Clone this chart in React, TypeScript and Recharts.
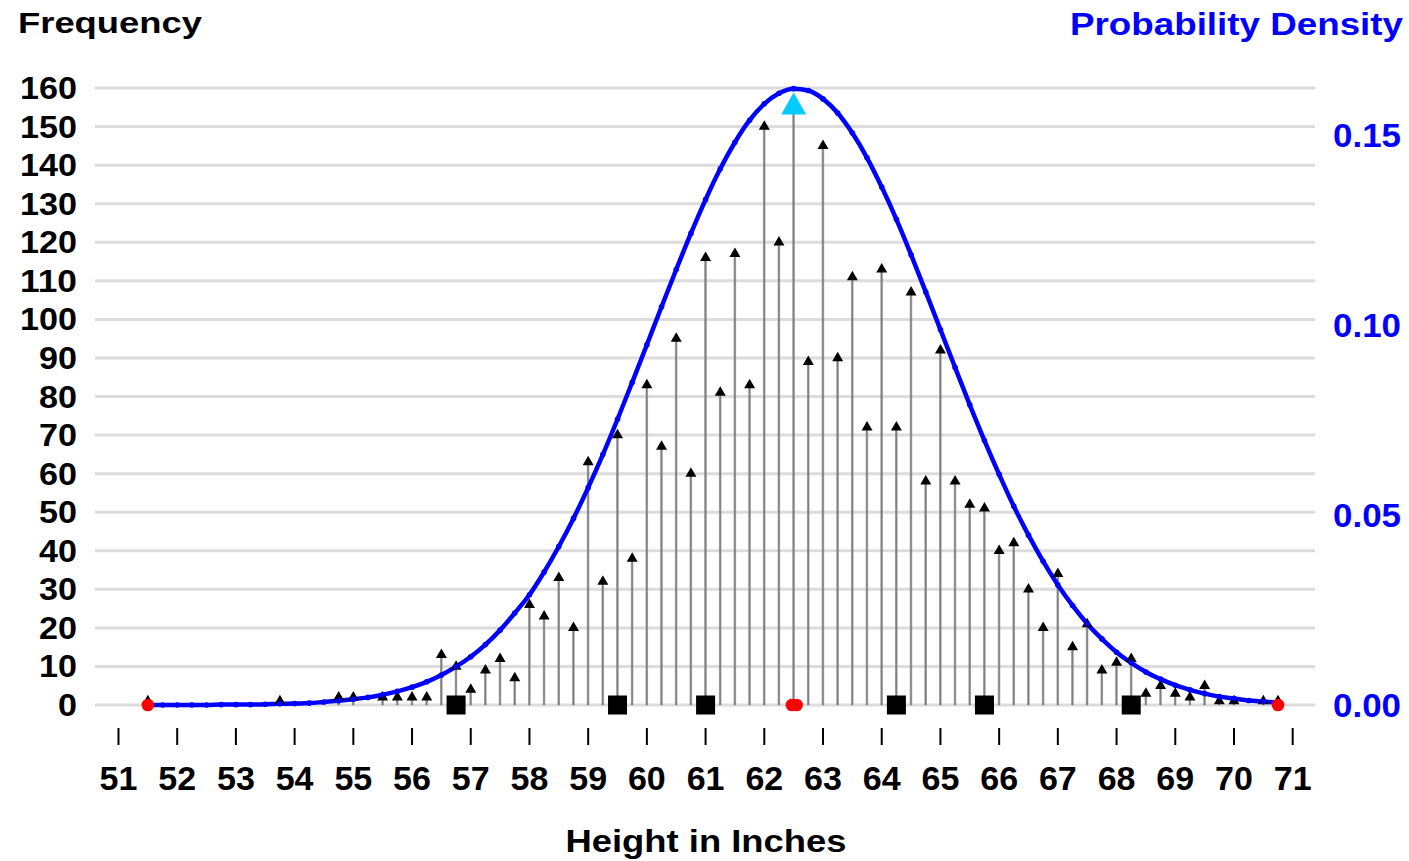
import React from "react";
import { ComposedChart, Bar, Line, Scatter, XAxis, YAxis, CartesianGrid } from "recharts";

// heights in inches, quarter-inch classes
const heights = [
  51.5, 51.75, 52, 52.25, 52.5, 52.75, 53, 53.25, 53.5,
  53.75, 54, 54.25, 54.5, 54.75, 55, 55.25, 55.5, 55.75,
  56, 56.25, 56.5, 56.75, 57, 57.25, 57.5, 57.75,
  58, 58.25, 58.5, 58.75, 59, 59.25, 59.5, 59.75,
  60, 60.25, 60.5, 60.75, 61, 61.25, 61.5, 61.75,
  62, 62.25, 62.5, 62.75, 63, 63.25, 63.5, 63.75,
  64, 64.25, 64.5, 64.75, 65, 65.25, 65.5, 65.75,
  66, 66.25, 66.5, 66.75, 67, 67.25, 67.5, 67.75,
  68, 68.25, 68.5, 68.75, 69, 69.25, 69.5, 69.75,
  70, 70.25, 70.5, 70.75,
];

const frequency = [
  1, 0, 0, 0, 0, 0, 0, 0, 0,
  1, 0, 0, 0, 2, 2, 0, 2, 2,
  2, 2, 13, 10, 4, 9, 12, 7,
  26, 23, 33, 20, 63, 32, 70, 38,
  83, 67, 95, 60, 116, 81, 117, 83,
  150, 120, 155, 89, 145, 90, 111, 72,
  113, 72, 107, 58, 92, 58, 52, 51,
  40, 42, 30, 20, 34, 15, 21, 9,
  11, 12, 3, 5, 3, 2, 5, 1,
  1, 0, 1, 1,
];

const density = [
  0.0, 0.0, 0.0, 0.0, 0.0, 0.0001, 0.0001, 0.0001, 0.0002,
  0.0003, 0.0004, 0.0005, 0.0008, 0.0011, 0.0015, 0.002, 0.0027, 0.0036,
  0.0047, 0.0061, 0.0079, 0.0101, 0.0127, 0.0159, 0.0197, 0.0242,
  0.029, 0.035, 0.0417, 0.0491, 0.0572, 0.0659, 0.0752, 0.0849,
  0.0948, 0.1048, 0.1146, 0.1241, 0.133, 0.1411, 0.1481, 0.1539,
  0.1582, 0.161, 0.1622, 0.1617, 0.1595, 0.1558, 0.1505, 0.144,
  0.1363, 0.1278, 0.1185, 0.1087, 0.0988, 0.0888, 0.079, 0.0696,
  0.0607, 0.0523, 0.0447, 0.0378, 0.0316, 0.0262, 0.0214, 0.0174,
  0.0139, 0.0111, 0.0087, 0.0068, 0.0052, 0.004, 0.003, 0.0022,
  0.0017, 0.0012, 0.0009, 0.0006,
];

const modeHeight = 62.5;
const extremes = [51.5, 62.47, 62.55, 70.75]; // min, mean, median, max
const quantiles = [56.75, 59.5, 61.0, 64.25, 65.75, 68.25];

const xTicks = [51, 52, 53, 54, 55, 56, 57, 58, 59, 60, 61, 62, 63, 64, 65, 66, 67, 68, 69, 70, 71];
const freqTicks = [0, 10, 20, 30, 40, 50, 60, 70, 80, 90, 100, 110, 120, 130, 140, 150, 160];
const densTicks = [0, 0.05, 0.1, 0.15];

const rows = heights.map((h, i) => ({ x: h, freq: frequency[i], dens: density[i] }));
const triangleRows = rows.filter((r) => r.freq > 0 && r.x !== modeHeight);
const modeRows = rows.filter((r) => r.x === modeHeight);
const extremeRows = extremes.map((x) => ({ x, y: 0 }));
const quantileRows = quantiles.map((x) => ({ x, y: 0 }));

const FONT = '"Liberation Sans", Arial, Helvetica, sans-serif';
const BLUE = "#0000ff";

const Triangle = (props: any) => {
  const { cx, cy } = props;
  if (cx == null || cy == null) return null;
  return <polygon points={`${cx - 5.5},${cy + 3.2} ${cx + 5.5},${cy + 3.2} ${cx},${cy - 6.3}`} fill="#000" />;
};

const ModeTriangle = (props: any) => {
  const { cx, cy } = props;
  if (cx == null || cy == null) return null;
  return <polygon points={`${cx - 12.5},${cy + 7.3} ${cx + 12.5},${cy + 7.3} ${cx},${cy - 14.7}`} fill="#00ccff" />;
};

const Square = (props: any) => {
  const { cx, cy } = props;
  if (cx == null || cy == null) return null;
  return <rect x={cx - 9.5} y={cy - 9.5} width={19} height={19} fill="#000" />;
};

const RedDot = (props: any) => {
  const { cx, cy } = props;
  if (cx == null || cy == null) return null;
  return <circle cx={cx} cy={cy} r={6.3} fill="#ff0000" />;
};

const XTick = (props: any) => {
  const { x, y, payload } = props;
  return (
    <g>
      <line x1={x} x2={x} y1={y + 23} y2={y + 40} stroke="#000" strokeWidth={2} />
      <text x={x} y={y + 85} textAnchor="middle" fontFamily={FONT} fontWeight="bold" fontSize={34} fill="#000">
        {payload.value}
      </text>
    </g>
  );
};

const LeftTick = (props: any) => {
  const { x, y, payload } = props;
  const label = String(payload.value);
  return (
    <text x={x} y={y + 11} textAnchor="end" fontFamily={FONT} fontWeight="bold" fontSize={31}
      fill="#000" textLength={label.length * 19} lengthAdjust="spacingAndGlyphs">
      {label}
    </text>
  );
};

const RightTick = (props: any) => {
  const { x, y, payload } = props;
  return (
    <text x={x} y={y + 12} textAnchor="start" fontFamily={FONT} fontWeight="bold" fontSize={33}
      fill={BLUE} textLength={68} lengthAdjust="spacingAndGlyphs">
      {Number(payload.value).toFixed(2)}
    </text>
  );
};

export default function App() {
  return (
    <div style={{ position: "absolute", left: 0, top: 0, width: 1409, height: 861, background: "#fff" }}>
      <ComposedChart width={1409} height={861} data={rows} margin={{ top: 88, right: 0, bottom: 0, left: 0 }}>
        <CartesianGrid yAxisId="f" vertical={false} stroke="#dcdcdc" strokeWidth={3} />
        <XAxis dataKey="x" type="number" domain={[50.6, 71.38]} ticks={xTicks} height={156}
          axisLine={false} tickLine={false} tickSize={0} tickMargin={0} tick={<XTick />} interval={0} />
        <YAxis yAxisId="f" orientation="left" width={95} domain={[0, 160]} ticks={freqTicks}
          axisLine={false} tickLine={false} tickSize={0} tickMargin={18} tick={<LeftTick />} interval={0} />
        <YAxis yAxisId="d" orientation="right" width={94} domain={[0, 0.16237]} ticks={densTicks}
          axisLine={false} tickLine={false} tickSize={0} tickMargin={18} tick={<RightTick />} interval={0} />
        <Bar yAxisId="f" dataKey="freq" barSize={3} fill="#808080" stroke="#808080" strokeWidth={0.6}
          isAnimationActive={false} />
        <Scatter yAxisId="f" data={triangleRows} dataKey="freq" shape={<Triangle />} isAnimationActive={false} />
        <Scatter yAxisId="f" data={quantileRows} dataKey="y" shape={<Square />} isAnimationActive={false} />
        <Line yAxisId="d" dataKey="dens" type="monotone" stroke={BLUE} strokeWidth={4.5}
          dot={{ r: 2.8, fill: BLUE, stroke: "none" }} isAnimationActive={false} />
        <Scatter yAxisId="f" data={extremeRows} dataKey="y" shape={<RedDot />} isAnimationActive={false} />
        <Scatter yAxisId="f" data={modeRows} dataKey="freq" shape={<ModeTriangle />} isAnimationActive={false} />
      </ComposedChart>
      <svg width={1409} height={861} style={{ position: "absolute", left: 0, top: 0, pointerEvents: "none" }}>
        <text x={18} y={33} fontFamily={FONT} fontWeight="bold" fontSize={30} fill="#000"
          textLength={184} lengthAdjust="spacingAndGlyphs">Frequency</text>
        <text x={1403} y={35} textAnchor="end" fontFamily={FONT} fontWeight="bold" fontSize={31} fill={BLUE}
          textLength={333} lengthAdjust="spacingAndGlyphs">Probability Density</text>
        <text x={706} y={852} textAnchor="middle" fontFamily={FONT} fontWeight="bold" fontSize={31} fill="#000"
          textLength={281} lengthAdjust="spacingAndGlyphs">Height in Inches</text>
      </svg>
    </div>
  );
}
